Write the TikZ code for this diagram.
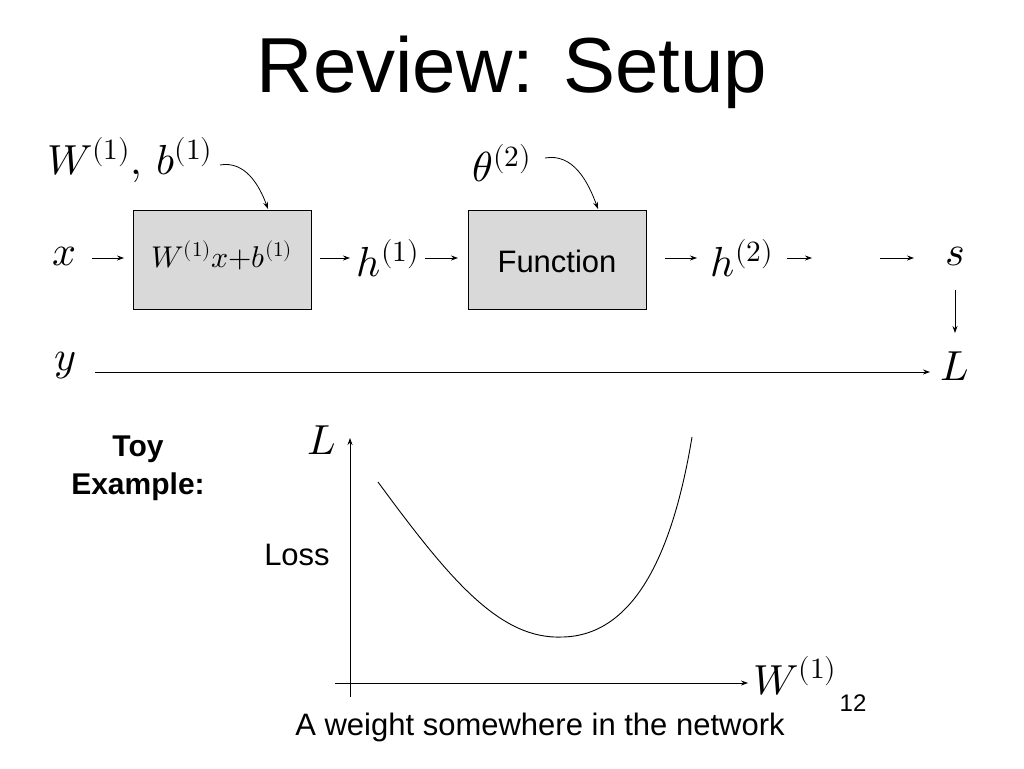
\documentclass[tikz,border=0pt]{standalone}
\usetikzlibrary{arrows.meta}
\usepackage{fontspec}
\setmainfont{Liberation Sans}
\usepackage{unicode-math}
\setmathfont{Latin Modern Math}
\begin{document}
\begin{tikzpicture}[x=1pt,y=-1pt,
  ar/.style={-{Stealth[length=7pt,width=5pt]},line width=0.8pt},
  box/.style={draw,fill=black!15,minimum width=178pt,minimum height=99pt,line width=0.8pt},
  m/.style={font=\fontsize{42}{42}\selectfont},
  sm/.style={font=\fontsize{30}{30}\selectfont}]
\useasboundingbox (0,0) rectangle (1024,768);
\node (title) at (512,72) {\fontsize{78}{78}\selectfont Review: Setup};
\node[m] (wb) at (130,160) {$W^{(1)},\,b^{(1)}$};
\node[box] (b1) at (222,259.5) {};
\node[sm] at (222,255) {$W^{(1)}x{+}b^{(1)}$};
\coordinate (b1t) at (268,209);
\draw[ar] (220,165) to[out=10,in=110] (b1t);
\node[m] (x) at (65,256) {$x$};
\coordinate (xe) at (124,258);
\draw[ar] (92,258) -- (xe);
\coordinate (h1s) at (320,258); \coordinate (h1e) at (350,258);
\draw[ar] (h1s) -- (h1e);
\node[m] (h1) at (388,258) {$h^{(1)}$};
\node[m] (th) at (502,163) {$\theta^{(2)}$};
\node[box] (b2) at (557,259.5) {};
\node[font=\fontsize{31}{31}\selectfont] at (557,261) {Function};
\coordinate (b2t) at (598,209);
\draw[ar] (545,158) to[out=10,in=110] (b2t);
\coordinate (a3) at (458,258);
\draw[ar] (425,258) -- (a3);
\coordinate (a4) at (697,258);
\draw[ar] (665,258) -- (a4);
\node[m] (h2) at (742,258) {$h^{(2)}$};
\coordinate (a5) at (812,258);
\draw[ar] (787,258) -- (a5);
\coordinate (a6) at (914,258);
\draw[ar] (880,258) -- (a6);
\node[m] (s) at (955,256) {$s$};
\node[m] (L) at (955,366) {$L$};
\coordinate (a7) at (955,333);
\draw[ar] (955,290) -- (a7);
\node[m] (y) at (65,366) {$y$};
\coordinate (a8) at (930,372);
\draw[ar] (95,372) -- (a8);
\node[font=\bfseries\fontsize{30}{38}\selectfont,align=center] (toy) at (138,468) {Toy\\Example:};
\coordinate (ay) at (350,438);
\draw[ar] (350,697) -- (ay);
\coordinate (ax) at (748,683);
\draw[ar] (335,683) -- (ax);
\node[m] (L2) at (322,440) {$L$};
\node[m] (W) at (795,676) {$W^{(1)}$};
\node[font=\fontsize{24}{24}\selectfont] (i12) at (853,703) {12};
\node[font=\fontsize{31}{31}\selectfont] (loss) at (297,555) {Loss};
\draw[line width=0.9pt] (378,482) .. controls (450,580) and (500,640) .. (563,637)
  .. controls (640,635) and (675,540) .. (692,437);
\node[font=\fontsize{31}{31}\selectfont] (cap) at (540,727) {A weight somewhere in the network};
\end{tikzpicture}
\end{document}
